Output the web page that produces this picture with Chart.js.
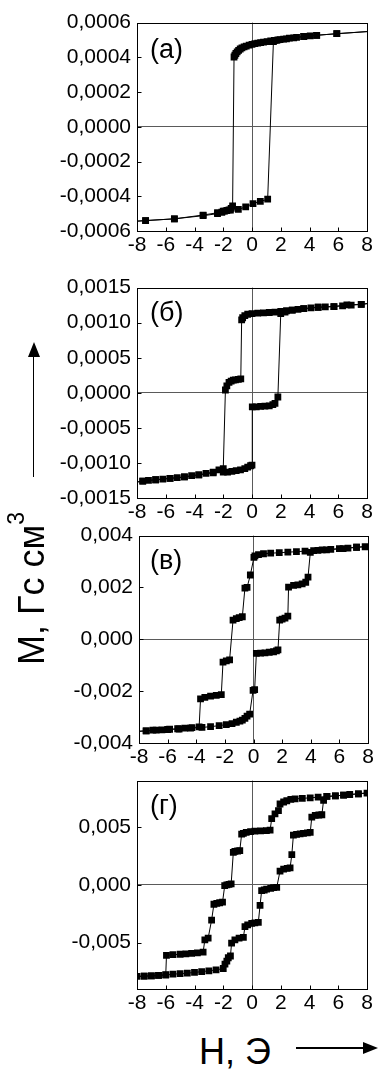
<!DOCTYPE html>
<html>
<head>
<meta charset="utf-8">
<script src="https://cdn.jsdelivr.net/npm/chart.js@4.4.0/dist/chart.umd.min.js"></script>
<style>
  body { margin: 0; width: 380px; height: 1071px; background: #fff; position: relative; overflow: hidden;
         font-family: "Liberation Sans", Arial, sans-serif; color: #000; }
  canvas { position: absolute; left: 0; }
  .lbl { position: absolute; font-size: 27px; line-height: 27px; white-space: nowrap; }
  .title { position: absolute; font-size: 36px; line-height: 36px; white-space: nowrap; }
  .sup { font-size: 23px; position: relative; top: -20px; }
  .bar { position: absolute; background: #000; }
  .tri { position: absolute; width: 0; height: 0; }
</style>
</head>
<body>
<canvas id="pA" width="380" height="261" style="top:4px"></canvas>
<canvas id="pB" width="380" height="263" style="top:269px"></canvas>
<canvas id="pC" width="380" height="260" style="top:517px"></canvas>
<canvas id="pD" width="380" height="261" style="top:762px"></canvas>

<div class="lbl" style="left:150px;top:36px">(а)</div>
<div class="lbl" style="left:150px;top:299px">(б)</div>
<div class="lbl" style="left:150px;top:547px">(в)</div>
<div class="lbl" style="left:150px;top:792px">(г)</div>

<div class="title" style="left:14px;top:665px;transform:rotate(-90deg);transform-origin:left top">M, Гс см<span class="sup">3</span></div>
<div class="bar" style="left:32.7px;top:355px;width:1.6px;height:122px"></div>
<div class="tri" style="left:27.5px;top:342px;border-left:6px solid transparent;border-right:6px solid transparent;border-bottom:15px solid #000"></div>

<div class="title" style="left:199px;top:1034px">H, Э</div>
<div class="bar" style="left:296px;top:1047.2px;width:68px;height:1.6px"></div>
<div class="tri" style="left:363px;top:1041.5px;border-top:6.5px solid transparent;border-bottom:6.5px solid transparent;border-left:15px solid #000"></div>

<script>
// поле H, Э (общая шкала для всех панелей)
const xTicks = [-8, -7, -6, -5, -4, -3, -2, -1, 0, 1, 2, 3, 4, 5, 6, 7, 8];

// (а) петля: сначала спуск от +8, потом подъём от -8
const fieldA = [8.3, 5.9, 4.5, 4.05, 3.6, 3.1, 2.6, 2.2, 1.8, 1.55, 1.3, 1.05, 0.8, 0.6, 0.4, 0.2, 0.0, -0.2, -0.4, -0.55, -0.7, -0.82, -0.93, -1.03, -1.12, -1.19, -1.25,
  -1.35, -1.45, -1.6, -1.75, -1.9, -2.1, -2.4, -3.4, -5.4, -7.4, -8.3,
  -7.4, -5.4, -3.4, -2.4, -2.0, -1.5, -0.95, -0.44, 0.07, 0.58, 1.09,
  1.49, 1.7, 1.95, 2.4, 2.9, 3.6, 4.5, 5.9, 8.3];
const momentA = [0.00055, 0.000536, 0.000527, 0.000524, 0.00052, 0.000515, 0.00051, 0.000505, 0.0005, 0.000497, 0.000494, 0.000491, 0.000488, 0.000485, 0.000482, 0.000479, 0.000475, 0.00047, 0.000465, 0.00046, 0.000454, 0.000448, 0.00044, 0.000432, 0.000422, 0.000412, 0.000402,
  -0.000455, -0.00047, -0.000478, -0.000482, -0.000485, -0.000492, -0.0005, -0.000512, -0.00053, -0.00054, -0.000545,
  -0.00054, -0.00053, -0.000508, -0.000495, -0.000485, -0.00048, -0.000476, -0.000461, -0.000442, -0.00043, -0.000417,
  0.00049, 0.000498, 0.000502, 0.000506, 0.000512, 0.00052, 0.000527, 0.000536, 0.00055];
const yMajorA = [-0.0006, -0.0004, -0.0002, 0, 0.0002, 0.0004, 0.0006];
const yMinorA = [-0.0005, -0.0003, -0.0001, 0.0001, 0.0003, 0.0005];

// (б)
const fieldB = [8.3, 7.6, 6.9, 6.3, 5.7, 5.1, 4.6, 4.1, 3.6, 3.2, 2.8, 2.4, 2.0, 1.6, 1.2, 0.8, 0.4, 0.0, -0.3, -0.5, -0.65, -0.72,
  -0.78, -0.95, -1.15, -1.3, -1.45, -1.6, -1.75, -1.85,
  -2.0, -2.3, -2.7, -3.2, -3.7, -4.2, -4.7, -5.2, -5.7, -6.2, -6.7, -7.2, -7.6, -8.3,
  -7.6, -6.7, -5.7, -4.7, -3.7, -2.7, -2.0, -1.7, -1.4, -1.1, -0.8, -0.5, -0.3, -0.1, 0.0,
  0.02, 0.3, 0.6, 0.9, 1.2, 1.45, 1.6, 1.8,
  2.0, 2.3, 2.8, 3.6, 4.6, 5.7, 6.6, 7.6, 8.3];
const momentB = [0.00128, 0.00126, 0.00125, 0.00124, 0.00123, 0.001225, 0.00122, 0.00121, 0.0012, 0.00119, 0.00118, 0.00117, 0.00116, 0.00115, 0.001145, 0.00114, 0.001135, 0.00113, 0.00112, 0.0011, 0.00107, 0.00104,
  0.0002, 0.00019, 0.000185, 0.00018, 0.000165, 0.00015, 0.0001, 0.00004,
  -0.00108, -0.0011, -0.00113, -0.00115, -0.00117, -0.00118, -0.0012, -0.00121, -0.00122, -0.00123, -0.00124, -0.00125, -0.00126, -0.00128,
  -0.00126, -0.00124, -0.00122, -0.0012, -0.00117, -0.00114, -0.00113, -0.00113, -0.00112, -0.00111, -0.0011, -0.00108, -0.00106, -0.00104, -0.00103,
  -0.0002, -0.0002, -0.000195, -0.00019, -0.000185, -0.00017, -0.00015, -0.00006,
  0.00113, 0.00115, 0.00118, 0.0012, 0.00122, 0.00123, 0.001255, 0.00126, 0.00128];
const yMajorB = [-0.0015, -0.001, -0.0005, 0, 0.0005, 0.001, 0.0015];
const yMinorB = [-0.00125, -0.00075, -0.00025, 0.00025, 0.00075, 0.00125];

// (в)
const fieldC = [8.3, 7.8, 7.2, 6.6, 6.0, 5.4, 4.8, 4.2, 3.6, 3.0, 2.4, 1.8, 1.2, 0.7, 0.35, 0.1, 0.03,
  -0.22, -0.45, -0.6, -0.78, -1.0, -1.2, -1.43, -1.67, -1.9, -2.13,
  -2.25, -2.6, -3.0, -3.4, -3.7, -3.8, -4.3, -4.8, -5.3, -5.86, -6.4, -7.03, -7.5, -8.3,
  -7.5, -6.8, -6.0, -5.2, -4.4, -3.6, -3.0, -2.4, -1.9, -1.5, -1.2, -0.95, -0.78, -0.6, -0.45, -0.27,
  -0.03, 0.08, 0.2, 0.5, 0.8, 1.1, 1.4, 1.6, 1.71,
  1.83, 2.0, 2.2, 2.4, 2.45, 2.8, 3.1, 3.4, 3.65, 3.81, 3.97, 4.5, 5.1, 6.26, 7.2, 8.3];
const momentC = [0.0036, 0.00357, 0.00355, 0.00352, 0.0035, 0.00347, 0.00345, 0.00342, 0.0034, 0.00338, 0.00336, 0.00334, 0.00332, 0.0033, 0.00327, 0.00322, 0.00316,
  0.00248, 0.002, 0.00197, 0.00087, 0.00084, 0.0008, 0.00074, -0.00079, -0.00083, -0.00088,
  -0.00213, -0.00216, -0.00219, -0.00224, -0.0023, -0.00338, -0.00341, -0.00343, -0.00345, -0.00347, -0.00349, -0.0035, -0.00353, -0.00356,
  -0.00353, -0.0035, -0.00348, -0.00346, -0.00343, -0.0034, -0.00337, -0.00333, -0.00329, -0.00325, -0.0032, -0.00316, -0.00312, -0.00305, -0.00296, -0.00289,
  -0.00197, -0.00194, -0.00054, -0.00053, -0.00052, -0.0005, -0.00048, -0.00045, -0.00041,
  0.00074, 0.00078, 0.00082, 0.00089, 0.00201, 0.00208, 0.0021, 0.00214, 0.0022, 0.0024, 0.00335, 0.00343, 0.00345, 0.0035, 0.00355, 0.0036];
const yMajorC = [-0.004, -0.002, 0, 0.002, 0.004];
const yMinorC = [-0.003, -0.001, 0.001, 0.003];

// (г)
const fieldD = [8.3, 8.0, 7.4, 6.8, 6.37, 5.8, 5.21, 4.6, 4.05, 3.5, 3.0, 2.7, 2.42, 2.2, 1.95, 1.84, 1.6, 1.37,
  1.26, 1.0, 0.6, 0.2, -0.1, -0.4, -0.6, -0.72, -0.85, -1.0, -1.19, -1.3,
  -1.45, -1.6, -1.75, -1.9, -2.05, -2.25, -2.45, -2.65, -2.81, -3.05, -3.28,
  -3.4, -3.8, -4.2, -4.6, -5.0, -5.5, -5.95, -6.0, -6.5, -7.0, -7.5, -8.0,
  -7.5, -7.0, -6.5, -6.0, -5.5, -5.0, -4.5, -4.0, -3.5, -3.0, -2.5, -2.0, -1.88, -1.75, -1.65, -1.5,
  -1.42, -1.19, -0.9, -0.6, -0.49, -0.3, -0.02, 0.2, 0.44, 0.56, 0.67, 0.85, 1.02, 1.3, 1.5, 1.72,
  1.95, 2.2, 2.45, 2.65, 2.77, 2.88, 3.1, 3.35, 3.58, 3.85, 4.05, 4.16, 4.4, 4.65, 4.86, 4.98, 5.21, 5.8, 6.37, 7.4, 8.3];
const momentD = [0.008, 0.00791, 0.00786, 0.0078, 0.00774, 0.00768, 0.00763, 0.00757, 0.00751, 0.00747, 0.00742, 0.00737, 0.00726, 0.00715, 0.00698, 0.00641, 0.00613, 0.00571,
  0.00472, 0.00468, 0.00466, 0.00464, 0.0046, 0.00452, 0.00445, 0.00438, 0.00295, 0.00292, 0.00288, 0.0028,
  0.00008, 0.00004, 0.0, -0.00008, -0.0015, -0.00155, -0.0016, -0.00168, -0.00305, -0.0046, -0.00475,
  -0.00582, -0.00588, -0.00592, -0.00596, -0.006, -0.00604, -0.0061, -0.00775, -0.00783, -0.00786, -0.00789, -0.00791,
  -0.00789, -0.00786, -0.00783, -0.0078, -0.00772, -0.00768, -0.00763, -0.00757, -0.0075, -0.00743, -0.00735, -0.00723, -0.00686, -0.0066, -0.0063, -0.00615,
  -0.00503, -0.00475, -0.0046, -0.00455, -0.00362, -0.00347, -0.00333, -0.00328, -0.00325, -0.00178, -0.00051, -0.00045, -0.00037, -0.0003, -0.00025, -0.00023,
  0.00119, 0.00135, 0.00142, 0.00147, 0.0026, 0.00429, 0.00435, 0.0044, 0.00444, 0.00448, 0.00452, 0.00585, 0.00599, 0.00603, 0.00605, 0.0073, 0.00763, 0.00768, 0.00774, 0.00786, 0.008];
const yMajorD = [-0.005, 0, 0.005];
const yMinorD = [-0.0075, -0.0025, 0.0025, 0.0075];

const FONT = { family: '"Liberation Sans", Arial, sans-serif', size: 21 };

// рамка и внутренние засечки (только снизу и слева)
const frame = {
  id: 'frame',
  afterDatasetsDraw(chart) {
    const { ctx, chartArea: a, scales: { x, y } } = chart;
    ctx.save();
    ctx.strokeStyle = '#000';
    ctx.lineWidth = 1;
    const l = Math.round(a.left) + 0.5, t = Math.round(a.top) + 0.5;
    const r = Math.round(a.right) + 0.5, b = Math.round(a.bottom) + 0.5;
    ctx.strokeRect(l, t, r - l, b - t);
    ctx.beginPath();
    x.ticks.forEach(tk => {
      const px = Math.round(x.getPixelForValue(tk.value)) + 0.5;
      ctx.moveTo(px, b);
      ctx.lineTo(px, b - (tk.big ? 4 : 2.5));
    });
    y.ticks.forEach(tk => {
      const py = Math.round(y.getPixelForValue(tk.value)) + 0.5;
      ctx.moveTo(l, py);
      ctx.lineTo(l + (tk.big ? 4 : 2.5), py);
    });
    ctx.stroke();
    ctx.restore();
  }
};

function fmt(v, d) {
  if (Math.abs(v) < 1e-12) v = 0;
  return v.toFixed(d).replace('.', ',');
}

function makePanel(id, hs, ms, yMin, yMax, yMajor, yMinor, dec, plotLeft, plotRight) {
  const pts = hs.map((h, i) => ({ x: h, y: ms[i] }));
  const yt = yMajor.map(v => ({ value: v, big: true }))
    .concat(yMinor.map(v => ({ value: v, big: false })))
    .sort((p, q) => p.value - q.value);
  new Chart(document.getElementById(id), {
    type: 'scatter',
    data: {
      datasets: [{
        data: pts,
        showLine: true,
        clip: { left: 0, top: 0, right: 0, bottom: 0 },
        borderColor: '#000',
        borderWidth: 1,
        pointStyle: 'rect',
        pointRadius: 4.8,
        pointBackgroundColor: '#000',
        pointBorderColor: '#000',
        pointBorderWidth: 0
      }]
    },
    options: {
      responsive: false,
      animation: false,
      events: [],
      layout: { padding: { top: 16, right: 380 - plotRight, bottom: 0, left: 0 } },
      plugins: { legend: { display: false }, tooltip: { enabled: false } },
      scales: {
        x: {
          type: 'linear', min: -8, max: 8,
          afterBuildTicks: s => { s.ticks = xTicks.map(v => ({ value: v, big: v % 2 === 0 })); },
          afterFit: s => { s.height = 34; },
          ticks: {
            callback: (v, i, t) => t[i].big ? String(v) : null,
            font: FONT, color: '#000', padding: 2, autoSkip: false, maxRotation: 0
          },
          grid: { drawTicks: false, lineWidth: 1, color: c => c.tick && c.tick.value === 0 ? '#5a5a5a' : 'rgba(0,0,0,0)' },
          border: { display: false }
        },
        y: {
          type: 'linear', min: yMin, max: yMax,
          afterBuildTicks: s => { s.ticks = yt.map(o => ({ value: o.value, big: o.big })); },
          afterFit: s => { s.width = plotLeft; },
          ticks: {
            callback: (v, i, t) => t[i].big ? fmt(v, dec) : null,
            font: FONT, color: '#000', padding: 6, autoSkip: false
          },
          grid: { drawTicks: false, lineWidth: 1, color: c => c.tick && c.tick.value === 0 ? '#5a5a5a' : 'rgba(0,0,0,0)' },
          border: { display: false }
        }
      }
    },
    plugins: [frame]
  });
}

makePanel('pA', fieldA, momentA, -0.0006, 0.0006, yMajorA, yMinorA, 4, 137, 367);
makePanel('pB', fieldB, momentB, -0.0015, 0.0015, yMajorB, yMinorB, 4, 137, 367);
makePanel('pC', fieldC, momentC, -0.004, 0.004, yMajorC, yMinorC, 3, 139, 368);
makePanel('pD', fieldD, momentD, -0.009, 0.009, yMajorD, yMinorD, 3, 137, 367);
</script>
</body>
</html>
